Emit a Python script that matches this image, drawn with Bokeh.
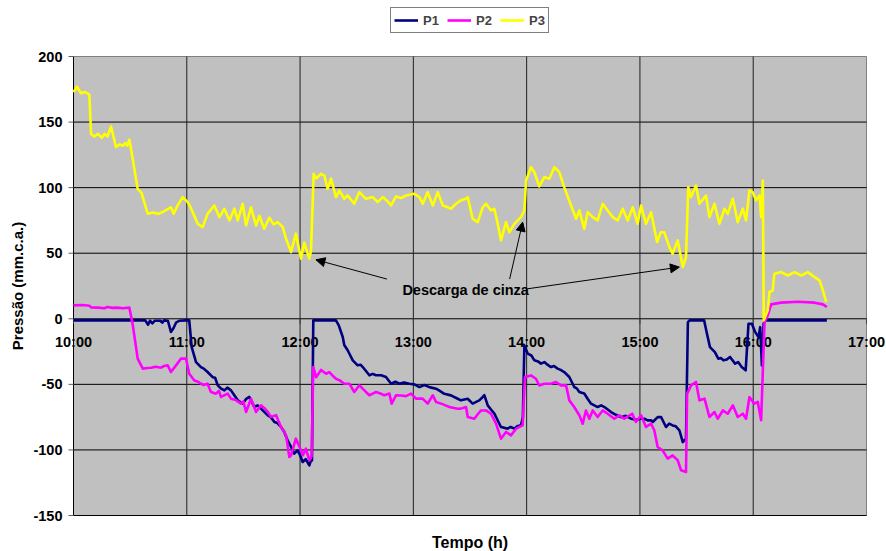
import math
from bokeh.plotting import figure
from bokeh.models import (Range1d, Legend, LegendItem, Arrow, NormalHead)
from bokeh.core.properties import value
from bokeh.embed import file_html
from bokeh.resources import INLINE

# ---------------- data (time in minutes after 10:00, pressure in mm.c.a.) ----------------
t1 = [0, 10, 20, 30, 38, 39.5, 40.5, 41.8, 43, 46, 47, 48, 50, 51.6, 53, 54.3, 56, 59.6, 61.3,
      62.6, 64.9, 67.5, 69, 71, 73.7, 75, 76.4, 78, 79.9, 81.5, 83.4, 85, 87, 89.6, 91.5, 93.1,
      95.8, 97.5, 99.3, 102.9, 104.5, 106.4, 108, 109.9, 111.5, 113.4, 115, 116.9, 118.7, 120,
      121.4, 123, 124.9, 125.8, 126.3, 127, 133, 139, 140.5, 142.6, 143.4, 145.2, 147.9, 150.5,
      152, 153.2, 155, 156.7, 158.5, 160.2, 162.9, 165.5, 168.2, 170.5, 172.6, 175, 177.9, 180.5,
      183.2, 185.8, 188.5, 192, 194, 196.4, 199.9, 203.5, 205.2, 208.8, 211.4, 214.9, 216.5, 217.6,
      219.4, 221, 222.9, 224.5, 226.4, 228, 229.9, 231.5, 233.5, 235, 237, 238, 238.8, 240.6,
      242.5, 244.1, 246, 247.6, 249.4, 251, 252.9, 254.5, 256.4, 258, 259.9, 262.6, 265.2, 266.5,
      267.9, 270.5, 272.3, 274.1, 277.6, 279.5, 281.2, 284.7, 287, 290, 292.5, 295.3, 298, 300.6,
      302.3, 304.1, 305.9, 306.8, 309.4, 311.2, 313.8, 315.5, 317.3, 319, 320.9, 322.7, 324.4,
      325.4, 326.3, 334, 335.3, 337.1, 339.7, 341.5, 343, 344.2, 346, 347.7, 350.4, 352, 353.9,
      356, 357.5, 359.3, 361, 362.8, 363.7, 364.6, 365.5, 366.4, 380, 399]
p1 = [-1.2, -1.2, -1.2, -1.2, -1.2, -4.5, -1.5, -3.5, -1.5, -1.5, -3, -1.2, -1.5, -10, -7, -3,
      -1.5, -1.2, -1.2, -21.6, -33, -36.8, -38, -40.6, -44.5, -45, -50.8, -53, -54.6, -52.5,
      -54.6, -58, -62.2, -64.7, -61, -59.6, -67.3, -66, -68.5, -73.6, -75, -78.7, -79.5, -82.5,
      -86, -92.7, -97, -102.8, -100.3, -104, -109.2, -107, -111.7, -108, -108, -1.2, -1.2, -1.2,
      -5, -13.9, -20, -24, -31.7, -35.5, -35, -36.8, -40, -43.1, -42, -43.1, -43.1, -44.4, -49.5,
      -48, -49.5, -48.5, -49.5, -50, -52.1, -50.5, -52.1, -53.3, -55, -57.2, -58.4, -61, -62.2,
      -61, -64.7, -62.2, -60, -58.3, -66, -69, -72.3, -77, -82.5, -83, -83.8, -82.5, -83.8, -82,
      -81.2, -75, -20.3, -26.6, -28, -31.7, -32.5, -34.2, -33, -35, -36.8, -36, -38, -39, -40.6,
      -44.4, -52, -53, -55.8, -57, -61, -64.7, -67.3, -66, -67.3, -71.1, -73, -75, -74, -76.2,
      -77, -76.2, -76.2, -77.5, -77.4, -78.7, -75, -74.9, -82.5, -80, -81.3, -82, -85, -94, -91.4,
      -2.5, -1.2, -1.2, -10, -21.6, -25.4, -30.4, -30, -31.7, -31, -29.1, -34.2, -33, -36.8,
      -39.3, -3.8, -3.8, -10, -14, -6.4, -35.5, -3.8, -1.2, -1.2, -1.2]

t2 = [0, 5, 8.4, 9.3, 13, 16.3, 18, 20.5, 23.4, 26, 29.6, 31.3, 34, 36.7, 39, 41.1, 43.5, 46.3,
      48, 49.9, 51.6, 54.3, 56.9, 59.6, 61.3, 64, 66, 67.5, 69, 71, 72.8, 75.5, 77, 78.1, 81.6,
      83.4, 86, 88.7, 90, 91.4, 94, 96.7, 99.3, 101, 102.9, 104.6, 107.3, 109.9, 112.6, 114.3,
      115.2, 117.8, 120.5, 121.5, 123.1, 124.9, 126.1, 127, 128.5, 131.1, 133.8, 135.5, 137, 139,
      141, 143.4, 146.1, 148.7, 151.4, 153, 154.9, 156.7, 158.5, 160.2, 162.5, 164.6, 167.3,
      168.5, 170.8, 173.5, 176.1, 178.8, 181.4, 184.9, 187.6, 190.3, 192, 194.7, 197, 199.1,
      201.5, 203.5, 205.2, 207.9, 208.8, 212.3, 214, 215.8, 218.5, 221.1, 223.8, 226.4, 229.1,
      231.7, 234.4, 237.9, 239.1, 242.3, 244.9, 246.7, 249.4, 252.9, 255.5, 258.2, 260.9, 262.6,
      265.2, 267.9, 269.7, 271.4, 273.2, 275, 277.6, 280.3, 282.9, 286.4, 289.1, 291.7, 295.9,
      297.9, 300.6, 303.2, 305.9, 307.6, 309.4, 312, 314.7, 317.3, 320, 321.8, 324.4, 325, 327.1,
      329.7, 331.5, 334.2, 336.8, 339.5, 341.2, 343.9, 346.5, 349.2, 351.8, 354.5, 356.2, 358,
      360.6, 362.4, 364.2, 365.1, 366, 367.7, 369.5, 374.8, 383.6, 392.5, 396.9, 399]
p2 = [10.2, 10.5, 10, 8.7, 8.5, 8, 9, 8.3, 8.5, 8, 8.5, -3.8, -30.4, -38, -37.5, -37.3, -36.5,
      -37.3, -36, -35.5, -40.6, -35.5, -30.4, -30.4, -41.9, -47, -48, -49.5, -50.5, -49.5, -55.8,
      -57.1, -55, -59.6, -57, -60.9, -62, -64.7, -63, -71.1, -61, -71.1, -66, -68, -71, -74.8,
      -73.5, -82.5, -88.9, -105.4, -104.1, -91.4, -100.3, -104, -99, -107.9, -105, -36.8, -44.5,
      -39, -41.9, -40.6, -43, -45.7, -47, -49.5, -49.5, -55.8, -50.8, -53, -55.8, -58.3, -57,
      -55.8, -57, -58.3, -57, -64.7, -58.3, -58.5, -59, -57, -60.9, -60.9, -64.7, -58.3, -63.4,
      -64.7, -66, -67.3, -68, -68.6, -68.5, -67.3, -74.9, -76.2, -73, -69.9, -69.9, -72.4, -80,
      -91.4, -86.3, -88.9, -83.8, -81.3, -44.4, -43.2, -45.7, -50.8, -49.5, -49.5, -48.2, -50.8,
      -50.8, -62.2, -67.3, -73.6, -80, -69.9, -76.2, -69.9, -74.9, -69.9, -72.4, -76.2, -73.6,
      -76.2, -72.4, -78.7, -73.6, -82.5, -80, -85, -97.8, -100.3, -106.6, -104.1, -107.9, -115.5,
      -116.8, -57.1, -50.8, -48.2, -62.2, -60.9, -74.9, -71.1, -76.2, -69.9, -72.4, -66, -74.9,
      -72.4, -76.2, -59.6, -64.7, -63.4, -77.4, -39.3, -2.5, 2.6, 11, 12.3, 13, 12.3, 11, 9]

t3 = [0, 1.8, 4, 6, 8.4, 9.3, 11, 13, 15, 16.5, 18, 19.9, 21, 22.5, 24.5, 26, 27.5, 28.5, 29.6,
      31, 34, 36, 39.3, 42, 45, 48, 51.6, 53, 55, 57.8, 60.5, 62, 65.8, 68.4, 71, 74.6, 77.3, 79.9,
      82.6, 85.2, 87, 89.6, 91.4, 94, 96.7, 98.4, 101, 103.7, 106, 108.2, 110.8, 112.6, 115.2,
      117.8, 120.5, 122.2, 124.9, 125.8, 127.2, 128.5, 131.1, 132.9, 134.6, 136.4, 139, 140.8,
      143.4, 145.2, 148.7, 151.4, 154.9, 158.5, 161.1, 163.8, 166, 168.2, 170.8, 173.5, 176.1,
      180.5, 183.2, 185, 187.6, 190.3, 192.9, 195.6, 198.2, 199.9, 202.6, 205.2, 207.9, 208.8,
      211.4, 214.1, 216.7, 218.5, 221.1, 222.9, 224.7, 226.4, 229.1, 230.8, 233.5, 237, 238.8,
      239.7, 242.3, 244.1, 246.7, 249.4, 252, 254.7, 257.3, 259.9, 263.5, 266.2, 267.9, 270.5,
      272.3, 275, 277.6, 280.3, 282.9, 285.6, 288.2, 290.9, 293.5, 296.2, 298.8, 300.6, 303.2,
      305.9, 309.1, 311, 312.9, 315.6, 317.3, 320, 322.7, 324.4, 325.6, 327, 329.7, 331.5, 335,
      336.8, 339.5, 342.1, 344.8, 346.5, 349.2, 351.8, 354.5, 356.2, 358, 359.7, 361.5, 363.3,
      364.2, 365.1, 365.6, 367.7, 368.6, 370.3, 371.2, 374.8, 378.3, 381.9, 385.4, 388.9, 392.5,
      395.1, 396.9, 398.7]
p3 = [172.8, 177, 172, 173, 171, 141, 139, 141, 138, 141, 139, 146.6, 140, 131, 133, 132, 134,
      132, 136.5, 125, 99, 96, 80.1, 81, 80, 82, 85, 80, 86, 92.8, 89, 85, 72.5, 69.9, 80, 86.4,
      77.5, 83.9, 75, 84, 75, 87.7, 71.2, 85, 71, 78.5, 68.7, 77, 72, 73.7, 70, 61, 50.8, 64.9,
      45.8, 58, 45.8, 52, 110.6, 107, 110.6, 109, 99, 107, 92.8, 97.8, 91.5, 94, 87.7, 96.6, 91.5,
      92.8, 89, 92.8, 90, 86.4, 93.3, 92, 94, 95.3, 92.8, 87.7, 96.6, 86.4, 96.6, 86.4, 85, 83.9,
      87.7, 90.3, 91.5, 92.8, 76.3, 73.7, 85, 87.7, 82.6, 83.9, 72.4, 59.8, 73.7, 66, 72.4, 77.5,
      82.6, 105.5, 115.6, 111.8, 100.9, 108, 106.8, 115.6, 111.8, 100.4, 86.4, 76.3, 82.6, 68.7,
      81.3, 77.5, 75, 87.7, 82.6, 77.5, 75, 83.9, 75, 85, 72.4, 86.4, 72.4, 81.3, 58.5, 66, 66,
      54.7, 49.6, 59.8, 39.4, 47, 100.4, 92.8, 101.6, 87.7, 94, 77.5, 87.7, 72.4, 83.9, 80, 91.5,
      73.7, 83.9, 75, 97.9, 96.6, 90.3, 94, 77.5, 105.5, -1.2, 6.4, 20.4, 21.6, 34.4, 35.6, 33,
      35.6, 33, 35.6, 31.8, 29.3, 21.6, 12.7]

series_names = ["P1", "P2", "P3"]
series_colors = ["#000080", "#FF00FF", "#FFFF00"]

hour_ticks = [0, 60, 120, 180, 240, 300, 360, 420]
hour_labels = ["10:00", "11:00", "12:00", "13:00", "14:00", "15:00", "16:00", "17:00"]
y_ticks = [-150, -100, -50, 0, 50, 100, 150, 200]
y_labels = ["-150", "-100", "-50", "0", "50", "100", "150", "200"]

x_title = "Tempo (h)"
y_title = "Pressão (mm.c.a.)"

note_text = "Descarga de cinza"
note_x, note_y = 207.7, 22.0
arrow_x0 = [166.0, 231.0, 240.6]
arrow_y0 = [30.3, 30.3, 22.9]
arrow_x1 = [128.4, 237.9, 320.9]
arrow_y1 = [45.0, 73.7, 39.4]

FONT = "Liberation Sans"

# ---------------- layout (pixels on the canvas) ----------------
W, H = 886, 551
AREA_L, AREA_R, AREA_T, AREA_B = 73, 866, 56, 515     # grey plot area inside the canvas
x_min, x_max = hour_ticks[0], hour_ticks[-1]
y_min, y_max = y_ticks[0], y_ticks[-1]
kx = (AREA_R - AREA_L) / (x_max - x_min)             # px per minute
ky = (AREA_B - AREA_T) / (y_max - y_min)             # px per unit
xr = Range1d(x_min - AREA_L / kx, x_max + (W - AREA_R) / kx)
yr = Range1d(y_min - (H - AREA_B) / ky, y_max + AREA_T / ky)

p = figure(width=W, height=H, output_backend="svg", toolbar_location=None, title=None,
           x_range=xr, y_range=yr, x_axis_location=None, y_axis_location=None,
           min_border_left=0, min_border_right=0, min_border_top=0, min_border_bottom=0)
p.grid.visible = False
p.outline_line_color = None
p.background_fill_color = "white"
p.border_fill_color = "white"

# grey plotting area
p.quad(left=[x_min], right=[x_max], bottom=[y_min], top=[y_max],
       fill_color="#C0C0C0", line_color="#808080", line_width=1)

# grid lines
gy = y_ticks[:-1]
p.segment(x0=[x_min] * len(gy), y0=gy, x1=[x_max] * len(gy), y1=gy,
          line_color="black", line_width=1)
gx = hour_ticks[1:-1]
p.segment(x0=gx, y0=[y_min] * len(gx), x1=gx, y1=[y_max] * len(gx),
          line_color="#202020", line_width=1)

# y axis line, ticks and labels
p.segment(x0=[x_min], y0=[y_min], x1=[x_min], y1=[y_max], line_color="black", line_width=1)
p.segment(x0=[x_min] * len(y_ticks), y0=y_ticks, x1=[x_min - 5 / kx] * len(y_ticks), y1=y_ticks,
          line_color="#606060", line_width=1)
p.text(x=[x_min] * len(y_ticks), y=y_ticks, text=y_labels, x_offset=-11,
       text_align="right", text_baseline="middle", text_font=value(FONT),
       text_font_style="bold", text_font_size="14.5px", text_color="black")

# x ticks and labels on the zero line
p.segment(x0=hour_ticks, y0=[0] * len(hour_ticks), x1=hour_ticks,
          y1=[-5 / ky] * len(hour_ticks), line_color="#404040", line_width=1)
p.text(x=hour_ticks, y=[0] * len(hour_ticks), text=hour_labels, y_offset=23,
       text_align="center", text_baseline="middle", text_font=value(FONT),
       text_font_style="bold", text_font_size="14.5px", text_color="black")

# axis titles
p.text(x=[(x_min + x_max) / 2], y=[y_min], text=[x_title], y_offset=27,
       text_align="center", text_baseline="middle", text_font=value(FONT),
       text_font_style="bold", text_font_size="16px", text_color="black")
p.text(x=[x_min], y=[(y_min + y_max) / 2], text=[y_title], x_offset=-56, angle=math.pi / 2,
       text_align="center", text_baseline="middle", text_font=value(FONT),
       text_font_style="bold", text_font_size="15px", text_color="black")

# series
renderers = []
for tt, vv, color in zip([t1, t2, t3], [p1, p2, p3], series_colors):
    r = p.line(tt, vv, line_color=color, line_width=2.6, line_join="round")
    renderers.append(r)

# annotation
for xs, ys, xe, ye in zip(arrow_x0, arrow_y0, arrow_x1, arrow_y1):
    p.add_layout(Arrow(end=NormalHead(size=9, fill_color="black", line_color="black"),
                       x_start=xs, y_start=ys, x_end=xe, y_end=ye,
                       line_color="black", line_width=1))
p.text(x=[note_x], y=[note_y], text=[note_text], text_align="center",
       text_baseline="middle", text_font=value(FONT), text_font_style="bold",
       text_font_size="14.5px", text_color="black")

# legend above the grey area
legend = Legend(items=[LegendItem(label=n, renderers=[r]) for n, r in zip(series_names, renderers)],
                orientation="horizontal", location=(390, H - 33),
                label_text_font=FONT, label_text_font_style="bold", label_text_font_size="13px",
                glyph_width=24, glyph_height=18, label_height=18, label_width=16,
                label_standoff=5, spacing=8, padding=3, margin=0,
                border_line_color="black", border_line_width=1,
                background_fill_color="white", background_fill_alpha=1)
p.add_layout(legend, "center")

open("out.html", "w").write(file_html(p, INLINE))
